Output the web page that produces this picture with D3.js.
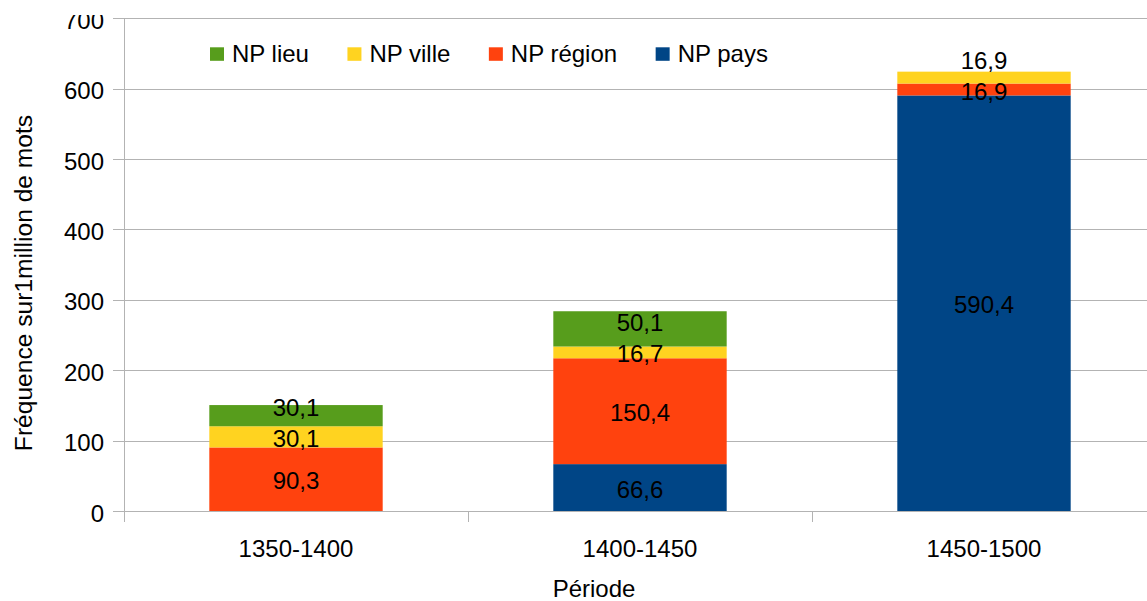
<!DOCTYPE html>
<html>
<head>
<meta charset="utf-8">
<script src="https://cdn.jsdelivr.net/npm/d3@7"></script>
<style>
  html, body { margin: 0; padding: 0; background: #fff; }
  svg text { font-family: "Liberation Sans", Arial, sans-serif; fill: #000; }
</style>
</head>
<body>
<svg id="chart" width="1147" height="601"></svg>
<script>
const categories = ["1350-1400", "1400-1450", "1450-1500"];
const seriesNames = ["NP pays", "NP région", "NP ville", "NP lieu"];
const npPays   = [0, 66.6, 590.4];
const npRegion = [90.3, 150.4, 16.9];
const npVille  = [30.1, 16.7, 16.9];
const npLieu   = [30.1, 50.1, 0];
const yTicks = [0, 100, 200, 300, 400, 500, 600, 700];
const colors = ["#004586", "#ff420e", "#ffd320", "#579d1c"];
const legendOrder = ["NP lieu", "NP ville", "NP région", "NP pays"];

(function () {
const seriesValues = [npPays, npRegion, npVille, npLieu];
const rows = categories.map((c, i) => {
  const r = { cat: c };
  seriesNames.forEach((s, k) => r[s] = seriesValues[k][i]);
  return r;
});
const stacked = d3.stack().keys(seriesNames)(rows);
const color = d3.scaleOrdinal().domain(seriesNames).range(colors);

const svg = d3.select("#chart");
const pLeft = 124, pRight = 1156, pTop = 18.3, pBottom = 511;
const FONT = 24;

svg.append("defs").append("clipPath").attr("id", "tickclip")
  .append("rect").attr("x", 0).attr("y", 15).attr("width", 1147).attr("height", 586);

const x = d3.scaleBand().domain(categories).range([pLeft, pRight]).paddingInner(0.496).paddingOuter(0.248);
const xCat = d3.scaleBand().domain(categories).range([pLeft, pRight]).padding(0);
const y = d3.scaleLinear().domain([0, 700]).range([pBottom, pTop]);

// gridlines
svg.append("g").selectAll("line").data(yTicks).join("line")
  .attr("x1", pLeft - 11).attr("x2", 1147)
  .attr("y1", d => Math.round(y(d)) + 0.5).attr("y2", d => Math.round(y(d)) + 0.5)
  .attr("stroke", "#b3b3b3").attr("stroke-width", 1);

// y axis line
svg.append("line").attr("x1", pLeft + 0.5).attr("x2", pLeft + 0.5)
  .attr("y1", pTop).attr("y2", pBottom + 11)
  .attr("stroke", "#b3b3b3");

// category boundary ticks
const bounds = categories.map(c => xCat(c));
svg.append("g").selectAll("line").data(bounds).join("line")
  .attr("x1", d => Math.round(d) + 0.5).attr("x2", d => Math.round(d) + 0.5)
  .attr("y1", pBottom).attr("y2", pBottom + 11)
  .attr("stroke", "#b3b3b3");

// y tick labels
svg.append("g").attr("clip-path", "url(#tickclip)")
  .selectAll("text").data(yTicks).join("text")
  .attr("x", 104).attr("y", d => y(d) + 10.5)
  .attr("text-anchor", "end").attr("font-size", FONT)
  .text(d => d);

// x tick labels
svg.append("g").selectAll("text").data(categories).join("text")
  .attr("x", d => xCat(d) + xCat.bandwidth() / 2).attr("y", 557)
  .attr("text-anchor", "middle").attr("font-size", FONT)
  .text(d => d);

// bars
svg.append("g").selectAll("g").data(stacked).join("g")
  .attr("fill", d => color(d.key))
  .selectAll("rect").data(d => d).join("rect")
  .attr("x", d => x(d.data.cat))
  .attr("width", x.bandwidth())
  .attr("y", d => y(d[1]))
  .attr("height", d => y(d[0]) - y(d[1]));

// data labels with simple overlap avoidance
const labels = [];
categories.forEach((c, i) => {
  let prev = Infinity;
  stacked.forEach(s => {
    const seg = s[i];
    const v = seg[1] - seg[0];
    if (v <= 0) return;
    let cy = (y(seg[0]) + y(seg[1])) / 2 + 1.5;
    cy = Math.min(cy, prev - 31);
    prev = cy;
    labels.push({ cat: c, cy, text: d3.format(".1f")(v).replace(".", ",") });
  });
});
svg.append("g").selectAll("text").data(labels).join("text")
  .attr("x", d => x(d.cat) + x.bandwidth() / 2)
  .attr("y", d => d.cy + 8.6)
  .attr("text-anchor", "middle").attr("font-size", FONT)
  .text(d => d.text);

// legend
const lg = svg.append("g");
let lx = 210;
legendOrder.forEach(name => {
  lg.append("rect").attr("x", lx).attr("y", 47.3).attr("width", 14).attr("height", 13.5)
    .attr("fill", color(name));
  const t = lg.append("text").attr("x", lx + 22).attr("y", 61.7).attr("font-size", FONT).text(name);
  const w = t.node().getComputedTextLength();
  lx = lx + 22 + w + 38.5;
});

// axis titles
svg.append("text")
  .attr("transform", "translate(32,283) rotate(-90)")
  .attr("text-anchor", "middle").attr("font-size", 24.6)
  .text("Fréquence sur1million de mots");
svg.append("text")
  .attr("x", 594).attr("y", 597)
  .attr("text-anchor", "middle").attr("font-size", FONT)
  .text("Période");
})();
</script>
</body>
</html>
